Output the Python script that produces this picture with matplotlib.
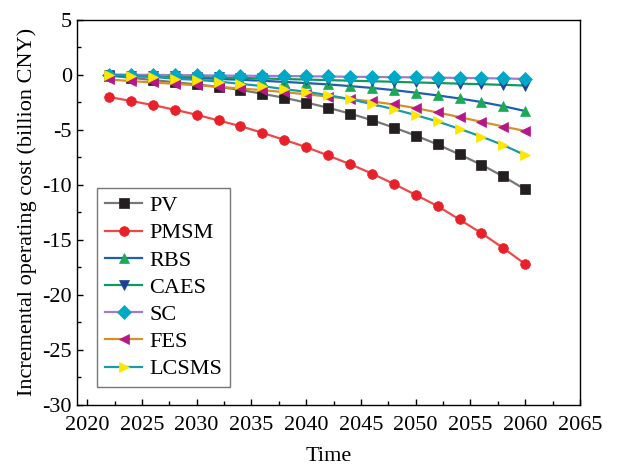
import matplotlib
matplotlib.use("Agg")
import matplotlib.pyplot as plt
from matplotlib.ticker import MultipleLocator

years = list(range(2022, 2061, 2))
pv = [-0.10, -0.30, -0.50, -0.70, -0.90, -1.12, -1.40, -1.75, -2.12, -2.55,
      -3.02, -3.55, -4.15, -4.82, -5.55, -6.36, -7.27, -8.20, -9.27, -10.45]
pmsm = [-2.05, -2.40, -2.78, -3.20, -3.66, -4.18, -4.69, -5.30, -5.94, -6.60,
        -7.36, -8.15, -9.00, -9.94, -10.94, -11.96, -13.18, -14.42, -15.78, -17.24]
rbs = [-0.10, -0.15, -0.20, -0.25, -0.32, -0.40, -0.48, -0.57, -0.67, -0.78,
       -0.90, -1.05, -1.22, -1.42, -1.65, -1.90, -2.18, -2.50, -2.88, -3.32]
caes = [-0.05, -0.10, -0.14, -0.18, -0.22, -0.27, -0.31, -0.36, -0.41, -0.46,
        -0.51, -0.56, -0.61, -0.66, -0.72, -0.77, -0.83, -0.88, -0.94, -1.00]
sc = [0.00, -0.02, -0.04, -0.05, -0.07, -0.09, -0.11, -0.12, -0.14, -0.16,
      -0.18, -0.20, -0.22, -0.24, -0.26, -0.28, -0.31, -0.33, -0.36, -0.40]
fes = [-0.45, -0.60, -0.72, -0.85, -0.98, -1.12, -1.27, -1.42, -1.60, -1.80,
       -2.00, -2.22, -2.45, -2.72, -3.05, -3.45, -3.87, -4.30, -4.73, -5.13]
lcsms = [-0.03, -0.09, -0.21, -0.39, -0.48, -0.64, -0.85, -1.05, -1.33, -1.57,
         -1.87, -2.24, -2.69, -3.15, -3.69, -4.27, -4.94, -5.64, -6.42, -7.33]

labels = ["PV", "PMSM", "RBS", "CAES", "SC", "FES", "LCSMS"]
series = [pv, pmsm, rbs, caes, sc, fes, lcsms]
markers = ["s", "o", "^", "v", "D", "<", ">"]
marker_colors = ["#231f20", "#e8202a", "#1aaa55", "#1f3f99", "#00a8c8", "#b5178a", "#ffe600"]
line_colors = ["#777777", "#f04848", "#1f5fb0", "#119a60", "#a07ccc", "#d4912a", "#1a9aaa"]
msizes = [6.8, 7, 7.5, 7.5, 7, 7.5, 7.5]

plt.rcParams["font.family"] = ["Liberation Serif", "DejaVu Serif"]
plt.rcParams["axes.unicode_minus"] = False

fig = plt.figure(figsize=(6.17, 4.67), dpi=100)
ax = fig.add_axes([0.1253, 0.1338, 0.8147, 0.8244])

for lab, ys, m, mc, lc, ms in zip(labels, series, markers, marker_colors, line_colors, msizes):
    ax.plot(years, ys, color=lc, lw=1.6, marker=m, markersize=ms,
            markerfacecolor=mc, markeredgecolor=mc, markeredgewidth=0.5, label=lab)

ax.set_xlim(2019.1, 2065)
ax.set_ylim(-30, 5)
ax.xaxis.set_major_locator(MultipleLocator(5))
ax.xaxis.set_minor_locator(MultipleLocator(2.5))
ax.yaxis.set_major_locator(MultipleLocator(5))
ax.yaxis.set_minor_locator(MultipleLocator(2.5))
ax.tick_params(which="both", direction="in", top=False, right=False, labelsize=16)
ax.tick_params(axis="x", pad=8)
ax.tick_params(axis="y", pad=4)
ax.tick_params(which="major", length=4, width=1)
ax.tick_params(which="minor", length=3, width=1)
for s in ax.spines.values():
    s.set_linewidth(1.0)

ax.set_xlabel("Time", fontsize=16, labelpad=9)
ax.set_ylabel("Incremental operating cost (billion CNY)", fontsize=16, labelpad=4)

leg = ax.legend(loc="lower left", bbox_to_anchor=(0.039, 0.045), fontsize=16,
                frameon=True, fancybox=False, edgecolor="#555555",
                handlelength=1.7, labelspacing=0.30, borderpad=0.35,
                handletextpad=0.3, borderaxespad=0)
leg.get_frame().set_linewidth(1.0)

fig.savefig("out.png", dpi=100)
